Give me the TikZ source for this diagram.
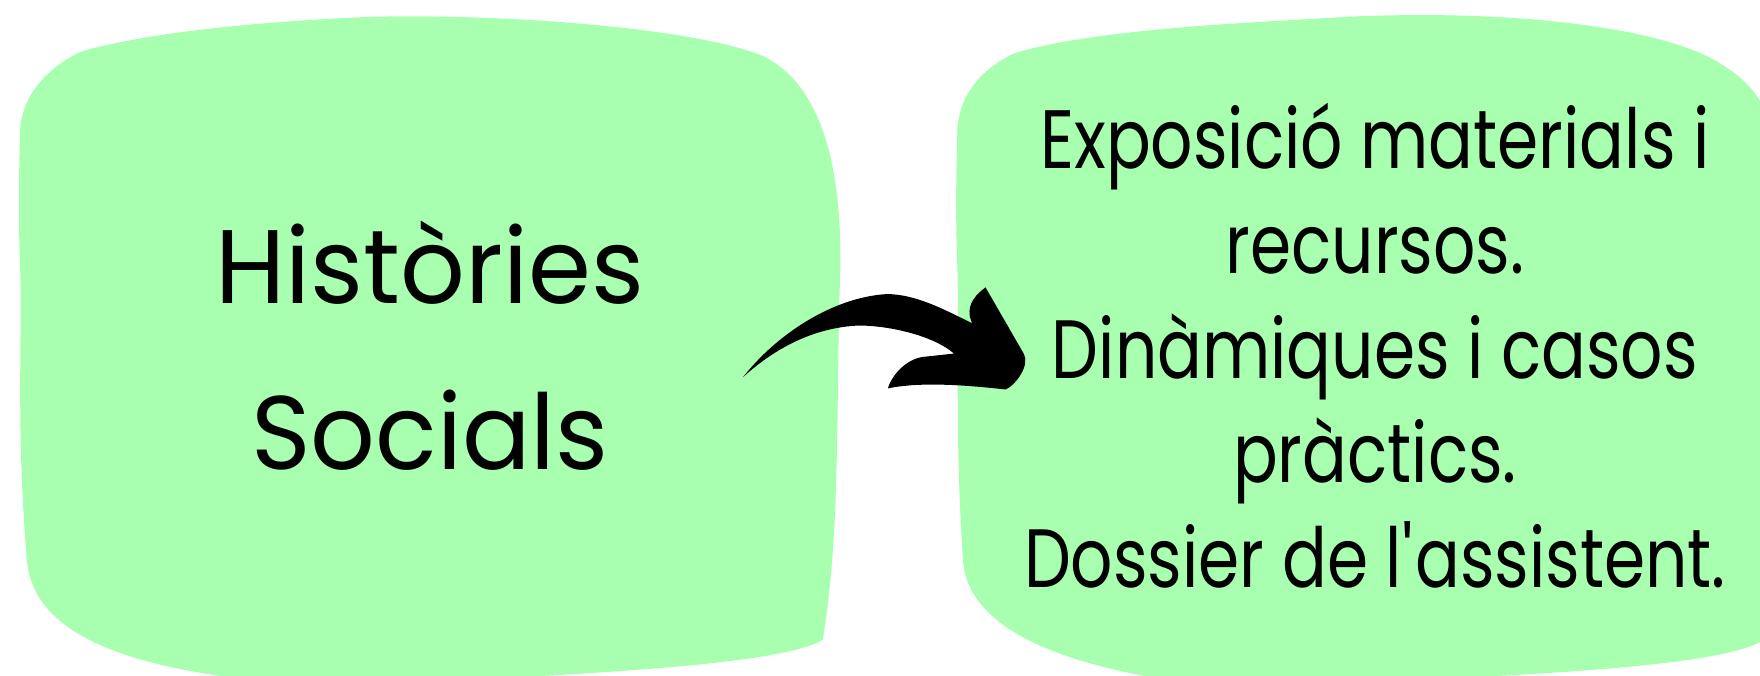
\documentclass[tikz,border=0pt]{standalone}
\usepackage{fontspec}
\setmainfont{Poppins}
\newfontfamily\widefont{Poppins}[FakeStretch=0.97]
\newfontfamily\narrowfont{Poppins}[FakeStretch=0.80]
\usepackage{tikz}
\definecolor{blobgreen}{RGB}{169,255,176}

\begin{document}
\begin{tikzpicture}[
    x=0.02cm, y=-0.02cm,
    blob/.style={fill=blobgreen, draw=none},
    bigtext/.style={align=center, font=\widefont\fontsize{53}{84}\selectfont},
    smalltext/.style={align=center, font=\narrowfont\fontsize{42}{53}\selectfont},
]
    \useasboundingbox (0,0) rectangle (1568,602);

    % Left blob
    \path[blob] (18,115) .. controls (20,80) and (50,55) .. (75,45)
        .. controls (150,25) and (260,18) .. (330,15)
        .. controls (450,12) and (620,25) .. (680,50)
        .. controls (740,80) and (752,170) .. (748,260)
        .. controls (745,380) and (748,480) .. (733,570)
        .. controls (700,590) and (560,598) .. (450,604)
        -- (210,604)
        .. controls (100,590) and (30,560) .. (24,500)
        .. controls (14,380) and (20,300) .. (18,240)
        .. controls (16,190) and (17,150) .. (18,115) -- cycle;

    % Right blob
    \path[blob] (853,115) .. controls (855,80) and (880,58) .. (905,47)
        .. controls (980,25) and (1120,20) .. (1200,15)
        .. controls (1350,8) and (1480,25) .. (1530,55)
        .. controls (1555,70) and (1568,85) .. (1572,100)
        -- (1572,570)
        .. controls (1540,590) and (1420,598) .. (1300,604)
        -- (1030,604)
        .. controls (920,585) and (862,550) .. (858,500)
        .. controls (850,380) and (855,300) .. (853,240)
        .. controls (851,190) and (852,150) .. (853,115) -- cycle;

    % Text
    \node[bigtext] (hist) at (383,308) {Històries\\Socials};
    \node[smalltext] (expo) at (1225,308) {Exposició materials i\\recursos.\\Dinàmiques i casos\\pràctics.\\Dossier de l\textquotesingle assistent.};

    % Arrow
    \fill (662,336) .. controls (690,300) and (740,265) .. (790,262)
        .. controls (815,262) and (840,275) .. (866,288)
        -- (864,282) .. controls (862,270) and (870,262) .. (878,256)
        -- (912,315) .. controls (918,325) and (905,343) .. (896,347)
        .. controls (860,343) and (820,340) .. (791,346)
        .. controls (795,333) and (808,320) .. (822,318)
        -- (850,315)
        .. controls (830,298) and (790,290) .. (765,290)
        .. controls (720,292) and (685,315) .. (662,336) -- cycle;
\end{tikzpicture}
\end{document}
